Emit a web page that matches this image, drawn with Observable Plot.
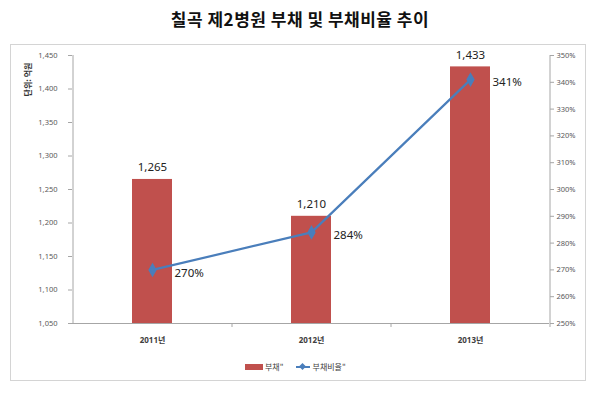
<!DOCTYPE html>
<html>
<head>
<meta charset="utf-8">
<script src="https://cdn.jsdelivr.net/npm/d3@7"></script>
<script src="https://cdn.jsdelivr.net/npm/@observablehq/plot@0.6"></script>
<style>
  html, body { margin: 0; padding: 0; background: #fff; }
  #wrap { position: relative; width: 600px; height: 399px; overflow: hidden; font-family: "Noto Sans CJK KR", "Noto Sans", sans-serif; }
  #title { position: absolute; left: 0; top: 6px; width: 600px; text-align: center; font-size: 17px; font-weight: bold; color: #111; letter-spacing: 0.5px; }
  #frame { position: absolute; left: 10px; top: 44px; width: 576px; height: 337px; border: 1px solid #d4d4d4; box-sizing: border-box; }
  #chart { position: absolute; left: 0; top: 44px; }
  #unit { position: absolute; left: 11px; top: 74px; transform: rotate(-90deg); transform-origin: center; font-size: 8px; font-weight: bold; color: #333; white-space: nowrap; }
  #legend { position: absolute; top: 361px; left: 245px; font-size: 8px; color: #404040; display: flex; align-items: center; }
  .sw-bar { display: inline-block; width: 18px; height: 6px; background: #c0504d; margin-right: 2px; }
  .sw-line { display: inline-block; position: relative; width: 14px; height: 8px; margin-left: 12px; margin-right: 3px; }
  .sw-line::before { content: ""; position: absolute; left: 0; right: 0; top: 3px; height: 2px; background: #4a7ebb; }
  .sw-line::after { content: ""; position: absolute; left: 4px; top: 1.5px; width: 5px; height: 5px; background: #4a7ebb; transform: rotate(45deg); }
</style>
</head>
<body>
<div id="wrap">
  <div id="title">칠곡 제2병원 부채 및 부채비율 추이</div>
  <div id="frame"></div>
  <div id="chart"></div>
  <div id="unit">단위: 억원</div>
  <div id="legend"><span class="sw-bar"></span><span>부채"</span><span class="sw-line"></span><span>부채비율"</span></div>
</div>
<script>
const years = ["2011년", "2012년", "2013년"];
const debt = [1265, 1210, 1433];
const ratio = [270, 284, 341];
const debtTicks = [1050, 1100, 1150, 1200, 1250, 1300, 1350, 1400, 1450];
const ratioTicks = [250, 260, 270, 280, 290, 300, 310, 320, 330, 340, 350];

const data = years.map((y, i) => ({year: y, debt: debt[i], ratio: ratio[i]}));

// map the right-hand ratio axis onto the left debt scale
const toY = p => 1050 + (p - 250) * 4;
const fromY = v => Math.round((v - 1050) / 4 + 250);

const step = 159;
const axisColor = "#a6a6a6";
const tickText = "#595959";
const font = "'Noto Sans', 'Noto Sans CJK KR', sans-serif";

const plot = Plot.plot({
  width: 600,
  height: 355,
  marginTop: 11,
  marginBottom: 76,
  marginLeft: 72,
  marginRight: 51,
  style: {fontFamily: font, background: "transparent"},
  x: {domain: years, paddingInner: 0.75, paddingOuter: 0.375, label: null},
  y: {domain: [1050, 1450], label: null},
  marks: [
    Plot.barY(data, {x: "year", y1: 1050, y2: "debt", fill: "#c0504d"}),
    Plot.ruleY([1050], {stroke: axisColor}),
    Plot.ruleX([years[0]], {dx: -step / 2, stroke: axisColor}),
    Plot.ruleX([years[2]], {dx: step / 2, stroke: axisColor}),
    Plot.axisY({anchor: "left", ticks: debtTicks, tickFormat: d3.format(","), tickSize: 4, tickPadding: 11, fontSize: 7.5, color: tickText, stroke: axisColor, label: null}),
    Plot.axisY({anchor: "right", ticks: ratioTicks.map(toY), tickFormat: v => fromY(v) + "%", tickSize: 4, tickPadding: 3, fontSize: 7.5, color: tickText, stroke: axisColor, label: null}),
    Plot.axisX({anchor: "bottom", tickSize: 4, dx: step / 2, text: null, stroke: axisColor, label: null}),
    Plot.axisX({anchor: "bottom", tickSize: 0, tickPadding: 14, fontSize: 8, fontWeight: "bold", color: "#404040", label: null}),
    Plot.line(data, {x: "year", y: d => toY(d.ratio), stroke: "#4a7ebb", strokeWidth: 2.2}),
    Plot.dot(data, {x: "year", y: d => toY(d.ratio), symbol: "diamond", r: 3.5, fill: "#4a7ebb", stroke: "#4a7ebb"}),
    Plot.text(data, {x: "year", y: "debt", text: d => d3.format(",")(d.debt), dy: -12, fontSize: 11.5, fill: "#222"}),
    Plot.text(data, {x: "year", y: d => toY(d.ratio), text: d => d.ratio + "%", dx: 22, dy: 3, textAnchor: "start", fontSize: 11.5, fill: "#222"})
  ]
});
document.getElementById("chart").appendChild(plot);
</script>
</body>
</html>
